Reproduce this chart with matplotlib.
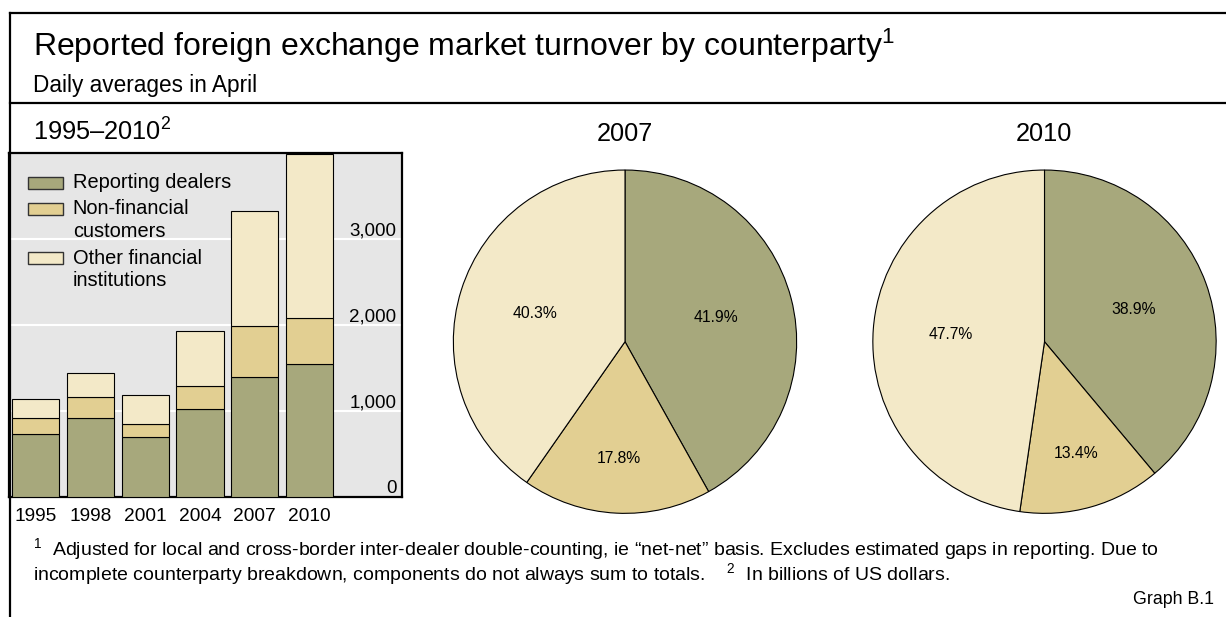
import matplotlib
matplotlib.use('Agg')
import matplotlib.pyplot as plt
import numpy as np
from matplotlib.lines import Line2D
from matplotlib.patches import Rectangle

plt.rcParams['font.family'] = ['Liberation Sans', 'DejaVu Sans']
plt.rcParams['mathtext.fontset'] = 'custom'
plt.rcParams['mathtext.rm'] = 'Liberation Sans'
plt.rcParams['mathtext.it'] = 'Liberation Sans:italic'
plt.rcParams['mathtext.bf'] = 'Liberation Sans:bold'

# data (billions of US dollars)
years = ['1995', '1998', '2001', '2004', '2007', '2010']
dealers = [731, 914, 693, 1019, 1393, 1545]
non_financial = [183, 246, 155, 273, 595, 537]
other_financial = [230, 280, 335, 638, 1343, 1906]
y_ticks = [0, 1000, 2000, 3000]

labels = ['Reporting dealers', 'Non-financial\ncustomers', 'Other financial\ninstitutions']
pie_2007 = [41.9, 17.8, 40.3]
pie_2010 = [38.9, 13.4, 47.7]

colors = ['#A7A87C', '#E2CF92', '#F3E9C8']

W, H = 1226, 617
fig = plt.figure(figsize=(W / 100, H / 100), dpi=100)


def fx(px):
    return px / W


def fy(py):
    return 1 - py / H


# frame lines
for xs, ys in [([10, W], [13, 13]), ([10, 10], [13, H]), ([10, W], [103, 103])]:
    fig.add_artist(Line2D([fx(v) for v in xs], [fy(v) for v in ys], color='black',
                          lw=1.6, transform=fig.transFigure))

fig.text(fx(33), fy(56), 'Reported foreign exchange market turnover by counterparty$^1$',
         fontsize=23, va='baseline')
fig.text(fx(33), fy(92), 'Daily averages in April', fontsize=16.3, va='baseline')
fig.text(fx(33), fy(141), '1995–2010$^2$', fontsize=18.3, va='baseline')
fig.text(fx(625), fy(141), '2007', fontsize=18.3, va='baseline', ha='center')
fig.text(fx(1044), fy(141), '2010', fontsize=18.3, va='baseline', ha='center')

# stacked bars
ax = fig.add_axes([fx(9), fy(497), (402 - 9) / W, (497 - 153) / H])
ax.set_facecolor('#E6E6E6')
x = np.arange(len(years))
d = np.array(dealers)
n = np.array(non_financial)
o = np.array(other_financial)
bw = 0.86
ax.bar(x, d, bw, color=colors[0], edgecolor='black', lw=0.8, zorder=3)
ax.bar(x, n, bw, bottom=d, color=colors[1], edgecolor='black', lw=0.8, zorder=3)
ax.bar(x, o, bw, bottom=d + n, color=colors[2], edgecolor='black', lw=0.8, zorder=3)
ax.set_xlim(-0.49, 6.69)
ax.set_ylim(0, 4000)
ax.set_yticks(y_ticks, ['{:,}'.format(v) for v in y_ticks])
ax.set_xticks(x, years)
ax.yaxis.grid(True, color='white', lw=1.5, zorder=0)
ax.set_axisbelow(True)
ax.tick_params(axis='x', length=0, pad=8, labelsize=13.8)
ax.tick_params(axis='y', length=0, left=False, labelleft=False, right=False,
               labelright=True, pad=-4, labelsize=13.5)
for lbl in ax.get_yticklabels():
    lbl.set_horizontalalignment('right')
    lbl.set_verticalalignment('bottom')
for sp in ax.spines.values():
    sp.set_linewidth(1.6)

# legend drawn inside the bar panel
leg_y = [183, 209, 258]
for lab, col, yc in zip(labels, colors, leg_y):
    ya = (497 - yc) / 344
    ax.add_patch(Rectangle((0.048, ya - 0.018), 0.089, 0.036, transform=ax.transAxes,
                           facecolor=col, edgecolor='#333333', lw=1, zorder=5))
    for i, line in enumerate(lab.split('\n')):
        ax.text(0.162, ya - i * 22.4 / 344, line, transform=ax.transAxes,
                fontsize=14.4, va='center', ha='left', zorder=6)

# pies
R = 172
for vals, cx in [(pie_2007, 625), (pie_2010, 1044.5)]:
    pax = fig.add_axes([fx(cx - R), fy(341.7 + R), 2 * R / W, 2 * R / H])
    wedges, texts, autotexts = pax.pie(vals, colors=colors, startangle=90, counterclock=False,
                                       autopct='%.1f%%', pctdistance=0.55,
                                       wedgeprops=dict(edgecolor='black', lw=0.8))
    for t in autotexts:
        t.set_fontsize(11.3)
    pos = np.array(autotexts[1].get_position())
    autotexts[1].set_position(pos * 0.68 / 0.55)
    pax.set_xlim(-1.002, 1.002)
    pax.set_ylim(-1.002, 1.002)
    pax.axis('off')

# footnotes
fig.text(fx(33), fy(555), '$^1$  Adjusted for local and cross-border inter-dealer double-counting, '
         'ie “net-net” basis. Excludes estimated gaps in reporting. Due to', fontsize=14, va='baseline')
fig.text(fx(33), fy(580), 'incomplete counterparty breakdown, components do not always sum to totals.    '
         '$^2$  In billions of US dollars.', fontsize=14, va='baseline')
fig.text(fx(1214), fy(604), 'Graph B.1', fontsize=12.8, va='baseline', ha='right')

fig.savefig('out.png', dpi=100)
